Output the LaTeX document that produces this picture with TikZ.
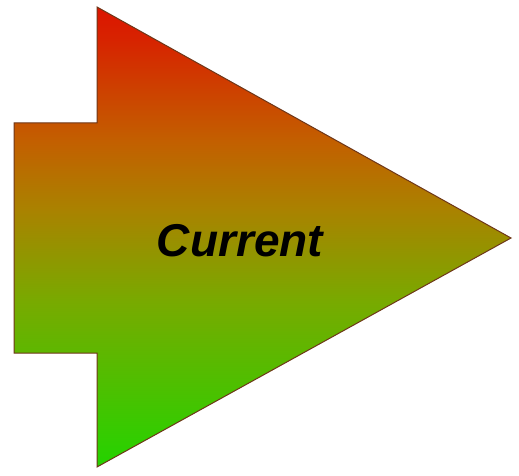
\documentclass[tikz,border=0pt]{standalone}
\usepackage{fontspec}
\setmainfont{Liberation Sans}
\definecolor{ga}{RGB}{220,20,0}
\definecolor{gb}{RGB}{215,35,0}
\definecolor{gc}{RGB}{195,95,0}
\definecolor{gd}{RGB}{170,130,0}
\definecolor{ge}{RGB}{120,170,0}
\definecolor{gf}{RGB}{50,205,0}
\definecolor{gg}{RGB}{35,210,0}
\definecolor{edgebrown}{RGB}{110,55,25}
\pgfdeclareverticalshading{arrowgrad}{100bp}{color(0bp)=(gg); color(25bp)=(gg); color(28bp)=(gf); color(43bp)=(ge); color(53bp)=(gd); color(60.5bp)=(gc); color(71.5bp)=(gb); color(75bp)=(ga); color(100bp)=(ga)}
\tikzset{
  arrowbody/.style={shading=arrowgrad, draw=edgebrown, line width=1pt, line join=miter},
  arrowlabel/.style={font=\fontsize{46}{46}\selectfont\bfseries\itshape, text=black, inner sep=0pt}
}
\begin{document}
\begin{tikzpicture}[x=1pt,y=-1pt]
\useasboundingbox (0,0) rectangle (519,476);
\coordinate (ht) at (97,7);
\coordinate (tip) at (511,238);
\coordinate (hb) at (97,467);
\shade[arrowbody] (14,123) -- (97,123) -- (ht) -- (tip) -- (hb) -- (97,353) -- (14,353) -- cycle;
\node[arrowlabel] (lbl) at (240,241) {Current};
\end{tikzpicture}
\end{document}
